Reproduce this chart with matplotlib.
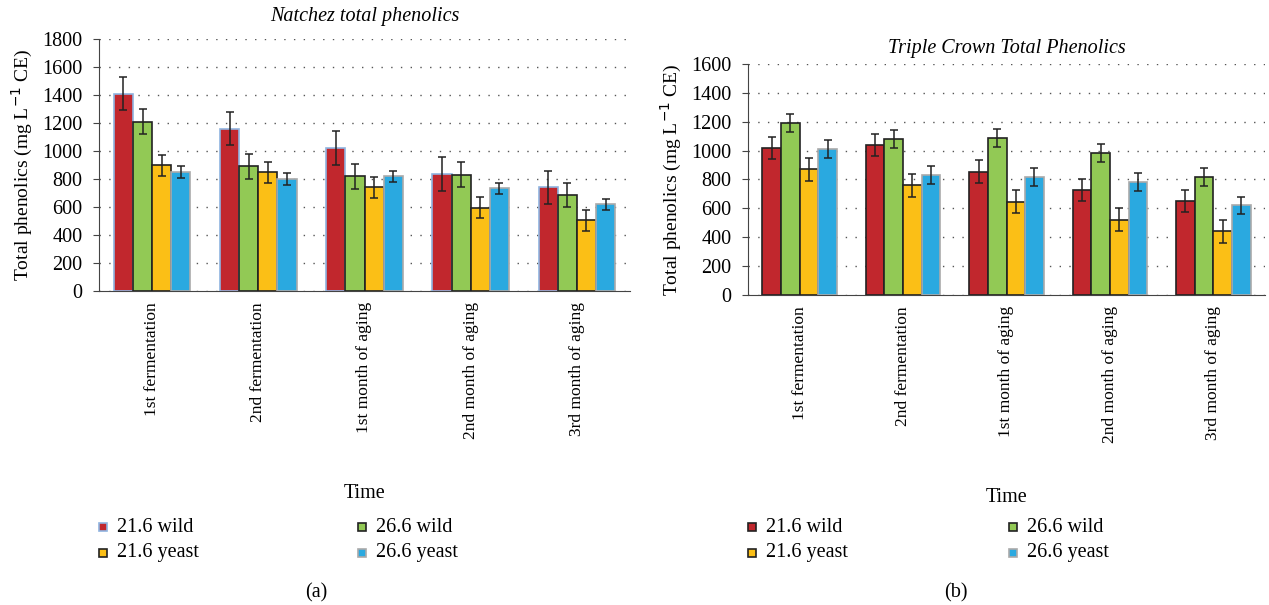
import matplotlib.pyplot as plt
import numpy as np
from matplotlib.patches import Rectangle

plt.rcParams['font.family'] = ['Liberation Serif', 'DejaVu Serif']

# data
categories = ['1st fermentation', '2nd fermentation', '1st month of aging',
              '2nd month of aging', '3rd month of aging']
series = ['21.6 wild', '26.6 wild', '21.6 yeast', '26.6 yeast']
colors = ['#C1272D', '#92C955', '#FBBF16', '#2AA9E0']

natchez_wild216 = [1410, 1160, 1020, 835, 740]
natchez_wild266 = [1210, 890, 820, 830, 685]
natchez_yeast216 = [900, 850, 740, 595, 505]
natchez_yeast266 = [850, 800, 820, 735, 620]
natchez_err_wild216 = [120, 120, 120, 120, 120]
natchez_err_wild266 = [88, 88, 88, 88, 88]
natchez_err_yeast216 = [75, 75, 75, 75, 75]
natchez_err_yeast266 = [40, 40, 40, 40, 40]

tc_wild216 = [1020, 1040, 855, 725, 650]
tc_wild266 = [1190, 1080, 1090, 985, 815]
tc_yeast216 = [870, 760, 645, 520, 440]
tc_yeast266 = [1010, 830, 820, 780, 620]
tc_err_wild216 = [77, 77, 77, 77, 77]
tc_err_wild266 = [62, 62, 62, 62, 62]
tc_err_yeast216 = [80, 80, 80, 80, 80]
tc_err_yeast266 = [62, 62, 62, 62, 62]

natchez_vals = [natchez_wild216, natchez_wild266, natchez_yeast216, natchez_yeast266]
natchez_errs = [natchez_err_wild216, natchez_err_wild266, natchez_err_yeast216, natchez_err_yeast266]
tc_vals = [tc_wild216, tc_wild266, tc_yeast216, tc_yeast266]
tc_errs = [tc_err_wild216, tc_err_wild266, tc_err_yeast216, tc_err_yeast266]

W, H = 1269, 605
fig = plt.figure(figsize=(W / 100, H / 100), dpi=100)


def panel(rect, vals, errs, ymax, title, title_pad, edges, legend_y, legend_x):
    ax = fig.add_axes(rect)
    x = np.arange(len(categories))
    bw = 0.18
    for i, (v, e) in enumerate(zip(vals, errs)):
        pos = x + (i - 1.5) * bw
        ax.bar(pos, v, bw, color=colors[i], edgecolor=edges[i], linewidth=1.2, zorder=3)
        ax.errorbar(pos, v, yerr=e, fmt='none', ecolor='#222222', elinewidth=1.1,
                    capsize=3, capthick=1.1, zorder=4)
    ax.set_xlim(-0.5, len(categories) - 0.5)
    ax.set_ylim(0, ymax)
    ax.set_yticks(np.arange(0, ymax + 1, 200))
    ax.yaxis.grid(True, linestyle=(0, (1, 6)), color='#555555', linewidth=1.0)
    ax.set_axisbelow(True)
    for s in ['top', 'right']:
        ax.spines[s].set_visible(False)
    for s in ['left', 'bottom']:
        ax.spines[s].set_color('#444444')
    ax.set_xticks(x)
    ax.set_xticklabels(categories, rotation=90, fontsize=12.5)
    ax.tick_params(axis='x', length=0, pad=8)
    ax.tick_params(axis='y', labelsize=14.5, length=4, color='#444444', pad=8)
    ax.set_title(title, style='italic', fontsize=14.5, pad=title_pad)
    ax.set_ylabel('Total phenolics (mg L$^{-1}$ CE)', fontsize=14, labelpad=5)
    ax.set_xlabel('Time', fontsize=14.5, labelpad=32)

    # legend drawn as squares + text, two columns
    for k in range(len(series)):
        col = k % 2
        row = k // 2
        xp = legend_x[col]
        yp = legend_y[row]
        fig.add_artist(Rectangle(((xp - 4) / W, 1 - (yp + 4) / H), 8 / W, 8 / H,
                                 facecolor=colors[k], edgecolor=edges[k],
                                 linewidth=1.2, transform=fig.transFigure))
        fig.text((xp + 14) / W, 1 - yp / H, series[k], fontsize=14.5, va='center', ha='left')
    return ax


panel([99 / W, 1 - 291 / H, 531 / W, 252 / H], natchez_vals, natchez_errs, 1800,
      'Natchez total phenolics', 13, ['#8FB4E0', '#222222', '#222222', '#AAAAAA'],
      [527, 553], [103, 362])
panel([748 / W, 1 - 295 / H, 517 / W, 231 / H], tc_vals, tc_errs, 1600,
      'Triple Crown Total Phenolics', 8, ['#222222', '#222222', '#222222', '#AAAAAA'],
      [527, 553], [752, 1013])

fig.text(316 / W, 1 - 593 / H, '(a)', fontsize=14.5, ha='center', va='center')
fig.text(956 / W, 1 - 593 / H, '(b)', fontsize=14.5, ha='center', va='center')

fig.savefig('out.png', dpi=100)
